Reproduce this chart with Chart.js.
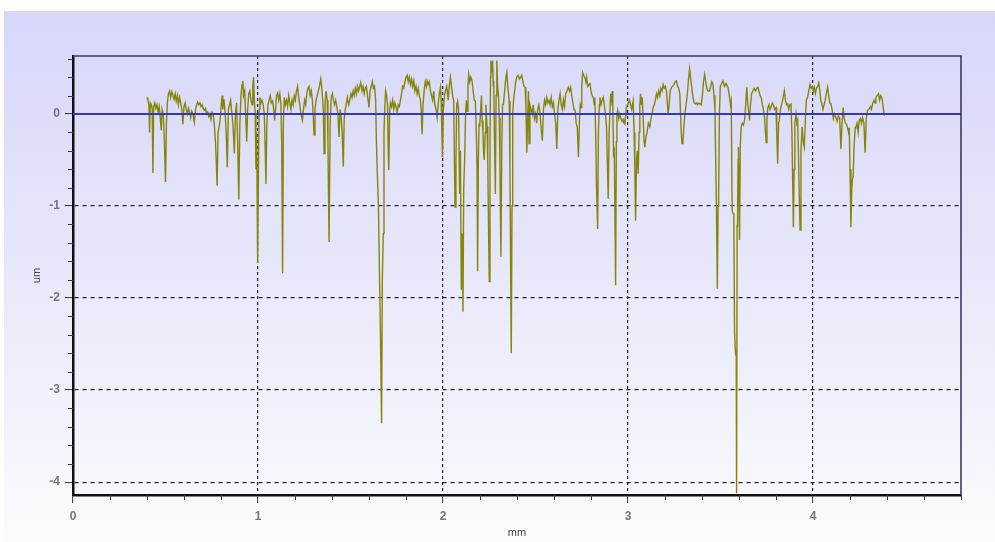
<!DOCTYPE html>
<html><head><meta charset="utf-8">
<script src="https://cdn.jsdelivr.net/npm/chart.js@4/dist/chart.umd.min.js"></script>
<style>html,body{margin:0;padding:0;background:#fff;overflow:hidden}canvas{display:block}</style>
</head><body><canvas id="c" width="995" height="542"></canvas>
<script>
// ---- data ----
const xTicks = [0, 1, 2, 3, 4];
const yTicks = [-4, -3, -2, -1, 0];
const xTitle = 'mm';
const yTitle = 'um';
const zeroX = [0, 4.8];
const zeroY = [0, 0];
const xMm = [
0.400,0.405,0.410,0.414,0.418,0.424,0.428,0.432,0.436,0.442,
0.448,0.454,0.460,0.466,0.472,0.477,0.482,0.488,0.494,0.500,
0.505,0.510,0.516,0.522,0.528,0.534,0.540,0.546,0.552,0.558,
0.564,0.570,0.576,0.582,0.588,0.594,0.600,0.606,0.612,0.618,
0.624,0.630,0.636,0.642,0.648,0.656,0.662,0.668,0.674,0.680,
0.686,0.692,0.698,0.704,0.710,0.716,0.722,0.728,0.734,0.740,
0.746,0.752,0.758,0.764,0.770,0.775,0.779,0.784,0.790,0.796,
0.802,0.806,0.810,0.816,0.822,0.828,0.834,0.840,0.846,0.852,
0.858,0.864,0.868,0.872,0.878,0.884,0.890,0.896,0.902,0.908,
0.914,0.918,0.922,0.928,0.934,0.939,0.944,0.950,0.956,0.962,
0.968,0.972,0.976,0.980,0.985,0.989,0.993,0.998,1.003,1.006,
1.010,1.016,1.022,1.028,1.034,1.038,1.043,1.048,1.054,1.060,
1.066,1.072,1.079,1.085,1.090,1.095,1.100,1.106,1.112,1.118,
1.124,1.128,1.133,1.137,1.142,1.148,1.154,1.160,1.166,1.172,
1.178,1.184,1.190,1.196,1.202,1.208,1.214,1.220,1.226,1.232,
1.240,1.246,1.252,1.258,1.264,1.270,1.276,1.282,1.288,1.294,
1.298,1.303,1.308,1.314,1.320,1.326,1.332,1.339,1.344,1.350,
1.354,1.357,1.362,1.368,1.374,1.378,1.384,1.390,1.396,1.402,
1.408,1.414,1.420,1.426,1.432,1.438,1.444,1.450,1.455,1.461,
1.466,1.472,1.478,1.483,1.490,1.496,1.502,1.508,1.514,1.520,
1.526,1.532,1.538,1.544,1.550,1.555,1.562,1.568,1.574,1.580,
1.586,1.592,1.600,1.606,1.612,1.618,1.624,1.630,1.636,1.640,
1.645,1.651,1.657,1.662,1.668,1.672,1.677,1.681,1.686,1.690,
1.695,1.700,1.703,1.707,1.712,1.716,1.722,1.728,1.734,1.740,
1.746,1.752,1.758,1.764,1.770,1.776,1.782,1.788,1.794,1.800,
1.806,1.812,1.818,1.824,1.830,1.836,1.842,1.848,1.854,1.860,
1.866,1.872,1.878,1.882,1.887,1.892,1.898,1.904,1.910,1.914,
1.920,1.926,1.932,1.938,1.944,1.950,1.956,1.962,1.968,1.974,
1.980,1.986,1.990,1.994,1.997,2.002,2.008,2.013,2.020,2.028,
2.034,2.040,2.046,2.052,2.058,2.061,2.065,2.070,2.074,2.079,
2.084,2.087,2.090,2.094,2.099,2.104,2.108,2.112,2.117,2.122,
2.126,2.130,2.135,2.139,2.145,2.150,2.157,2.163,2.169,2.175,
2.180,2.184,2.187,2.191,2.195,2.198,2.204,2.208,2.211,2.216,
2.219,2.223,2.228,2.232,2.238,2.242,2.246,2.250,2.254,2.257,
2.259,2.264,2.268,2.272,2.274,2.278,2.283,2.287,2.291,2.295,
2.300,2.304,2.308,2.313,2.318,2.322,2.327,2.333,2.340,2.345,
2.350,2.355,2.358,2.362,2.366,2.369,2.373,2.377,2.381,2.387,
2.393,2.399,2.406,2.413,2.420,2.426,2.432,2.438,2.444,2.448,
2.453,2.458,2.462,2.465,2.470,2.476,2.482,2.488,2.494,2.500,
2.506,2.512,2.518,2.524,2.530,2.537,2.543,2.549,2.555,2.561,
2.567,2.573,2.579,2.585,2.591,2.597,2.603,2.609,2.615,2.621,
2.627,2.633,2.639,2.645,2.651,2.657,2.663,2.670,2.678,2.684,
2.690,2.696,2.702,2.708,2.714,2.720,2.726,2.732,2.738,2.742,
2.746,2.750,2.755,2.760,2.766,2.772,2.776,2.782,2.788,2.794,
2.800,2.806,2.812,2.818,2.821,2.826,2.830,2.836,2.840,2.845,
2.848,2.854,2.860,2.866,2.872,2.878,2.884,2.888,2.893,2.898,
2.906,2.910,2.915,2.918,2.922,2.926,2.930,2.933,2.937,2.940,
2.944,2.950,2.956,2.962,2.968,2.974,2.978,2.983,2.990,2.996,
3.001,3.008,3.014,3.020,3.028,3.033,3.037,3.041,3.046,3.050,
3.055,3.060,3.064,3.068,3.072,3.077,3.083,3.087,3.091,3.097,
3.103,3.110,3.118,3.124,3.130,3.136,3.142,3.148,3.154,3.160,
3.166,3.172,3.178,3.184,3.190,3.196,3.202,3.208,3.213,3.217,
3.222,3.228,3.235,3.241,3.248,3.255,3.262,3.268,3.274,3.280,
3.284,3.288,3.292,3.297,3.302,3.307,3.314,3.321,3.326,3.333,
3.338,3.344,3.351,3.358,3.364,3.369,3.376,3.382,3.390,3.396,
3.402,3.408,3.414,3.420,3.426,3.432,3.441,3.447,3.453,3.459,
3.465,3.470,3.474,3.478,3.483,3.487,3.490,3.494,3.499,3.504,
3.513,3.522,3.530,3.540,3.548,3.554,3.558,3.563,3.568,3.572,
3.576,3.581,3.585,3.587,3.590,3.592,3.595,3.597,3.600,3.603,
3.607,3.612,3.618,3.624,3.630,3.636,3.642,3.648,3.653,3.657,
3.662,3.668,3.675,3.682,3.690,3.696,3.702,3.708,3.714,3.720,
3.726,3.732,3.738,3.743,3.747,3.751,3.756,3.762,3.768,3.774,
3.780,3.786,3.792,3.800,3.804,3.809,3.814,3.818,3.824,3.830,
3.836,3.845,3.851,3.857,3.863,3.869,3.875,3.881,3.886,3.890,
3.894,3.898,3.902,3.908,3.913,3.917,3.921,3.926,3.930,3.935,
3.941,3.947,3.953,3.958,3.964,3.971,3.977,3.984,3.990,3.996,
4.002,4.007,4.013,4.019,4.025,4.031,4.037,4.042,4.048,4.054,
4.060,4.066,4.072,4.079,4.085,4.091,4.097,4.103,4.110,4.116,
4.124,4.130,4.137,4.144,4.151,4.157,4.163,4.169,4.175,4.181,
4.187,4.192,4.196,4.200,4.205,4.210,4.214,4.217,4.222,4.228,
4.232,4.238,4.244,4.250,4.256,4.262,4.268,4.275,4.282,4.288,
4.295,4.302,4.310,4.316,4.322,4.330,4.336,4.340,4.347,4.354,
4.360,4.366,4.372,4.378,4.385
];
const yUm = [
0.18,0.15,0.10,-0.20,0.12,0.10,0.05,-0.64,0.08,0.12,
0.06,0.10,0.02,0.08,-0.05,-0.18,0.05,0.00,-0.30,-0.74,
-0.10,0.12,0.22,0.25,0.18,0.24,0.20,0.16,0.22,0.14,
0.20,0.10,0.18,0.12,0.05,-0.11,0.08,0.12,0.05,0.00,
0.06,0.02,-0.04,0.03,0.00,-0.09,0.04,0.10,0.13,0.10,
0.12,0.08,0.10,0.06,0.04,0.06,0.00,0.02,-0.03,0.00,
-0.06,0.02,0.00,-0.12,-0.30,-0.55,-0.78,-0.20,-0.14,-0.05,
0.12,0.20,0.05,0.16,0.02,-0.20,-0.58,0.05,0.10,0.15,
0.02,-0.10,-0.25,-0.43,0.00,0.12,-0.30,-0.93,-0.10,0.20,
0.32,0.36,0.20,0.25,-0.05,-0.30,0.05,0.22,0.25,0.15,
0.10,0.30,0.40,0.15,0.00,-0.60,-0.20,-1.62,-0.50,0.05,
0.18,0.12,0.15,0.10,0.00,-0.30,-0.76,-0.10,0.10,0.15,
0.20,0.12,0.14,0.05,-0.07,0.05,0.20,0.23,0.15,0.22,
0.10,-0.30,-1.73,-0.10,0.18,0.10,0.15,0.08,0.20,0.12,
0.05,0.15,0.10,0.20,0.15,0.25,0.30,0.18,0.10,0.00,
-0.07,0.05,0.15,0.10,0.22,0.28,0.30,0.20,0.25,0.15,
0.00,-0.23,0.05,0.15,0.20,0.25,0.30,0.38,0.30,0.15,
0.00,-0.43,0.10,0.25,0.15,-0.30,-1.39,-0.10,0.18,0.22,
0.15,0.10,0.15,0.08,0.00,-0.25,0.05,-0.05,-0.20,-0.57,
-0.05,0.05,0.12,0.18,0.10,0.15,0.22,0.18,0.25,0.20,
0.28,0.22,0.30,0.25,0.30,0.34,0.25,0.30,0.22,0.28,
0.30,0.20,0.07,0.25,0.30,0.35,0.28,0.30,0.15,-0.30,
-0.65,-1.00,-1.77,-2.40,-3.36,-1.80,-1.30,-0.20,0.10,0.25,
0.20,0.10,-0.30,-0.61,0.05,0.12,0.08,0.15,0.05,0.12,
0.08,0.02,0.10,0.08,0.15,0.22,0.30,0.28,0.35,0.40,
0.42,0.35,0.40,0.32,0.38,0.30,0.36,0.25,0.30,0.22,
0.28,0.20,0.15,0.05,-0.22,0.10,0.25,0.35,0.30,0.36,
0.32,0.35,0.25,0.20,0.15,0.25,0.10,0.05,-0.04,0.10,
0.22,0.29,0.15,-0.20,-0.47,0.05,0.20,0.25,0.30,0.15,
0.30,0.40,0.30,0.20,0.14,-0.40,-1.01,-0.50,0.10,0.14,
0.05,-0.40,-0.87,-0.40,-1.91,-1.30,-2.15,-0.80,-0.50,0.00,
0.15,0.03,0.30,0.43,0.35,0.40,0.36,0.25,0.15,0.14,
-0.20,-0.60,-1.71,-0.50,-0.10,-0.14,0.05,0.20,-0.07,-0.20,
-0.40,-0.50,-0.20,0.10,-0.14,-0.50,-1.20,-1.82,-0.30,0.40,
0.58,0.45,0.58,0.30,0.36,-0.20,-0.87,0.20,0.58,0.30,
0.20,-0.04,-0.60,-1.55,-0.30,0.10,0.11,0.25,0.40,0.45,
0.30,0.20,0.14,-0.60,-1.80,-2.60,-1.00,0.00,0.14,0.25,
0.35,0.40,0.42,0.38,0.40,0.42,0.35,0.30,0.29,0.10,
-0.42,0.00,0.25,-0.32,0.10,0.05,0.00,0.10,-0.05,0.00,
-0.10,0.05,0.10,0.02,-0.15,-0.29,0.05,0.15,0.10,0.18,
0.12,0.15,0.10,0.18,0.08,0.12,0.00,-0.10,-0.38,0.05,
0.15,0.22,0.10,0.05,0.15,0.08,0.22,0.25,0.29,0.25,
0.29,0.20,0.12,0.05,0.04,-0.10,-0.15,-0.47,-0.05,0.10,
0.07,0.30,0.45,0.42,0.40,0.35,0.40,0.30,0.32,0.33,
0.25,0.20,0.18,0.10,0.18,-0.30,-0.80,-1.25,-0.20,0.10,
0.18,0.10,0.15,0.18,0.10,0.00,-0.14,-0.50,-0.92,-0.20,
0.22,0.15,0.25,0.05,-0.43,-0.40,-1.20,-1.86,-0.30,0.00,
0.04,-0.05,0.00,-0.05,-0.08,-0.06,-0.10,-0.11,0.05,0.10,
0.11,0.15,0.10,0.05,0.14,-0.20,-0.60,-1.16,-0.50,-0.40,
-0.65,-0.20,0.10,0.22,0.10,0.18,-0.10,-0.30,-0.36,-0.25,
-0.20,-0.10,-0.14,-0.05,0.00,0.07,0.10,0.15,0.22,0.18,
0.25,0.20,0.28,0.25,0.32,0.28,0.30,0.25,0.10,0.00,
0.10,0.25,0.29,0.30,0.32,0.35,0.36,0.30,0.28,0.22,
0.00,-0.20,-0.32,-0.28,-0.15,0.00,0.10,0.22,0.35,0.49,
0.40,0.30,0.18,0.12,0.11,0.12,0.10,0.12,0.11,0.10,
0.20,0.35,0.43,0.35,0.28,0.25,0.25,0.30,0.35,0.32,
0.20,0.04,-0.50,-1.00,-1.90,-1.00,-0.87,0.00,0.30,0.32,
0.36,0.30,0.33,0.29,0.20,0.10,0.14,-1.05,-1.08,-1.10,
-2.38,-2.60,-2.64,-4.12,-1.20,-1.23,-0.50,-0.36,-0.80,-1.37,
-0.35,-0.14,-0.10,-0.12,-0.07,0.10,0.29,0.10,0.00,-0.07,
0.10,0.22,0.25,0.28,0.25,0.28,0.29,0.25,0.20,0.18,
0.10,0.05,-0.04,-0.20,-0.31,-0.05,0.07,0.10,0.05,0.08,
0.12,0.10,0.05,0.07,-0.20,-0.54,-0.10,-0.07,0.05,0.10,
0.15,0.25,0.15,0.10,0.11,0.05,0.10,0.11,-0.20,-0.70,
-1.23,-0.60,-0.10,0.00,-0.10,-0.07,-0.40,-0.90,-1.26,-0.40,
-0.14,-0.30,-0.36,-0.10,0.15,0.18,0.25,0.32,0.28,0.30,
0.25,0.29,0.22,0.28,0.30,0.34,0.25,0.15,0.11,0.05,
0.10,0.15,0.22,0.29,0.20,0.12,0.11,0.05,-0.05,0.00,
-0.04,-0.08,-0.02,-0.04,-0.38,-0.10,0.07,-0.05,-0.10,-0.11,
-0.15,-0.20,-0.15,-0.60,-1.23,-0.80,-0.70,-0.68,-0.35,-0.15,
-0.14,-0.10,-0.20,-0.07,-0.05,-0.10,-0.04,-0.10,-0.42,-0.05,
0.04,0.05,0.08,0.05,0.11,0.15,0.12,0.18,0.20,0.22,
0.15,0.20,0.18,0.10,-0.02
];

// ---- chart ----
const n = Math.min(xMm.length, yUm.length);
const profile = [];
for (let i = 0; i < n; i++) profile.push({x: xMm[i], y: yUm[i]});
const zeroLine = zeroX.map((x, i) => ({x, y: zeroY[i]}));

const bgPlugin = {
  id: 'bg',
  beforeDraw(chart) {
    const ctx = chart.ctx;
    ctx.save();
    ctx.fillStyle = '#ffffff';
    ctx.fillRect(0, 0, chart.width, chart.height);
    const g = ctx.createLinearGradient(0, 11, 0, chart.height);
    g.addColorStop(0, '#d6d6fa');
    g.addColorStop(0.5, '#e8e8fa');
    g.addColorStop(1, '#fbfbfd');
    ctx.fillStyle = g;
    ctx.fillRect(4, 11, chart.width - 4, chart.height - 11);
    ctx.restore();
  }
};
const framePlugin = {
  id: 'frame',
  afterDraw(chart) {
    const ctx = chart.ctx, a = chart.chartArea;
    const xs = chart.scales.x, ys = chart.scales.y;
    ctx.save();
    ctx.strokeStyle = '#333';
    ctx.lineWidth = 1;
    // minor ticks
    for (let i = -20; i <= 3; i++) {
      if (i % 5 === 0) continue;
      const py = Math.round(ys.getPixelForValue(i / 5)) + 0.5;
      ctx.beginPath(); ctx.moveTo(a.left - 5, py); ctx.lineTo(a.left, py); ctx.stroke();
    }
    for (let i = 1; i <= 24; i++) {
      if (i % 5 === 0) continue;
      const px = Math.round(xs.getPixelForValue(i / 5)) + 0.5;
      ctx.beginPath(); ctx.moveTo(px, a.bottom); ctx.lineTo(px, a.bottom + 5); ctx.stroke();
    }
    // top and right border
    ctx.strokeStyle = '#3c3c5a';
    ctx.lineWidth = 1.6;
    ctx.beginPath();
    ctx.moveTo(a.left, a.top); ctx.lineTo(a.right, a.top); ctx.lineTo(a.right, a.bottom);
    ctx.stroke();
    ctx.restore();
  }
};

const tickFont = {family: 'Liberation Sans', size: 12, weight: 'bold'};
const titleFont = {family: 'Liberation Sans', size: 11};

new Chart(document.getElementById('c'), {
  type: 'line',
  data: {
    datasets: [
      {data: zeroLine, borderColor: '#3535bd', borderWidth: 2, pointRadius: 0, tension: 0},
      {data: profile, borderColor: '#85850a', borderWidth: 1.4, pointRadius: 0, tension: 0}
    ]
  },
  options: {
    responsive: false,
    animation: false,
    devicePixelRatio: 1,
    layout: {padding: {left: 26, top: 56, right: 34, bottom: 0}},
    plugins: {legend: {display: false}, tooltip: {enabled: false}},
    scales: {
      x: {
        type: 'linear', min: 0, max: 4.8,
        afterBuildTicks: s => { s.ticks = xTicks.map(v => ({value: v})); },
        afterFit: s => { s.height = 47; },
        ticks: {font: tickFont, color: '#767676', padding: 6, maxRotation: 0},
        grid: {
          color: c => (c.tick && c.tick.value === 0) ? 'rgba(0,0,0,0)' : '#1c1c2c',
          lineWidth: 1.2,
          drawTicks: true, tickLength: 8, tickColor: '#333', tickWidth: 1, tickBorderDash: []
        },
        border: {display: true, color: '#111', width: 2.5, dash: [3, 3]},
        title: {display: true, text: xTitle, font: titleFont, color: '#444', padding: {top: 0, bottom: 2}}
      },
      y: {
        type: 'linear', min: -4.14, max: 0.63,
        afterBuildTicks: s => { s.ticks = yTicks.map(v => ({value: v})); },
        afterFit: s => { s.width = 47; },
        ticks: {font: tickFont, color: '#767676', padding: 5},
        grid: {
          color: c => (c.tick && c.tick.value === 0) ? 'rgba(0,0,0,0)' : '#1c1c2c',
          lineWidth: 1.2,
          drawTicks: true, tickLength: 8, tickColor: '#333', tickWidth: 1, tickBorderDash: []
        },
        border: {display: true, color: '#111', width: 2.5, dash: [4, 4]},
        title: {display: true, text: yTitle, font: titleFont, color: '#444', padding: {top: 4, bottom: 0}}
      }
    }
  },
  plugins: [bgPlugin, framePlugin]
});
</script>
</body></html>
